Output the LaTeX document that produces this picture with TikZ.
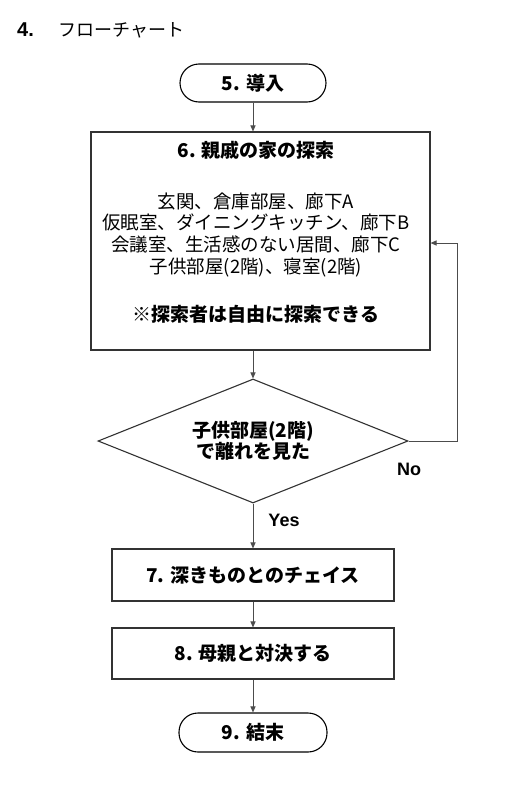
\documentclass[tikz,border=0pt]{standalone}
\usepackage{fontspec}
\setmainfont{Liberation Sans}
\newfontfamily\jp{Noto Sans CJK JP}
\usetikzlibrary{shapes.geometric,arrows.meta}
\tikzset{
  box/.style={draw=black!80, line width=1.1pt, inner sep=0pt, fill=white},
  term/.style={box, draw=black, rounded corners=19pt},
  dia/.style={box, diamond, aspect=2.5},
  arr/.style={draw=black!70, line width=1pt, -{Triangle[length=6pt,width=5pt]}},
  jtxt/.style={font=\jp\bfseries\fontsize{19}{21}\selectfont, align=center},
  lat/.style={font=\bfseries\fontsize{18}{20}\selectfont},
}
\begin{document}
\begin{tikzpicture}[x=1pt,y=-1pt]
\useasboundingbox[fill=white] (0,0) rectangle (516,787);
% heading
\node[anchor=base west, inner sep=0pt, font=\bfseries\fontsize{20}{22}\selectfont] (hnum) at (17,36) {4.};
\node[anchor=base west, inner sep=0pt, font=\jp\fontsize{18}{20}\selectfont] (htitle) at (58,36) {フローチャート};
% nodes
\node[term, minimum width=146pt, minimum height=38pt, jtxt] (start) at (253,83) {5. 導入};
\node[box, minimum width=339pt, minimum height=218pt] (explore) at (260.5,241) {};
\node[inner sep=0pt, align=center, font=\jp\fontsize{18.5}{21.7}\selectfont] (exploretxt) at (256,232)
  {{\bfseries\fontsize{19}{21.7}\selectfont 6. 親戚の家の探索}\\[29pt]
   玄関、倉庫部屋、廊下A\\
   仮眠室、ダイニングキッチン、廊下B\\
   会議室、生活感のない居間、廊下C\\
   子供部屋(2階)、寝室(2階)\\[26pt]
   {\bfseries\fontsize{19}{21.7}\selectfont ※探索者は自由に探索できる}};
\node[dia, minimum width=310pt, minimum height=124pt, jtxt] (check) at (253,441) {子供部屋(2階)\\で離れを見た};
\node[box, minimum width=282pt, minimum height=52pt, jtxt] (chase) at (253,575) {7. 深きものとのチェイス};
\node[box, minimum width=282pt, minimum height=51pt, jtxt] (mother) at (253,653.5) {8. 母親と対決する};
\node[term, minimum width=148pt, minimum height=39pt, jtxt] (finish) at (253,732.5) {9. 結末};
% labels
\node[lat, inner sep=0pt] (nolab) at (409,469) {No};
\node[lat, inner sep=0pt] (yeslab) at (284,520) {Yes};
% connectors
\coordinate (loop) at (457,243);
\draw[arr] (start.south) -- (start.south |- explore.north);
\draw[arr] (check.north |- explore.south) -- (check.north);
\draw[arr] (check.east) -| (loop) -- (loop -| explore.east);
\draw[arr] (check.south) -- (chase.north);
\draw[arr] (chase.south) -- (mother.north);
\draw[arr] (mother.south) -- (finish.north);
\end{tikzpicture}
\end{document}
